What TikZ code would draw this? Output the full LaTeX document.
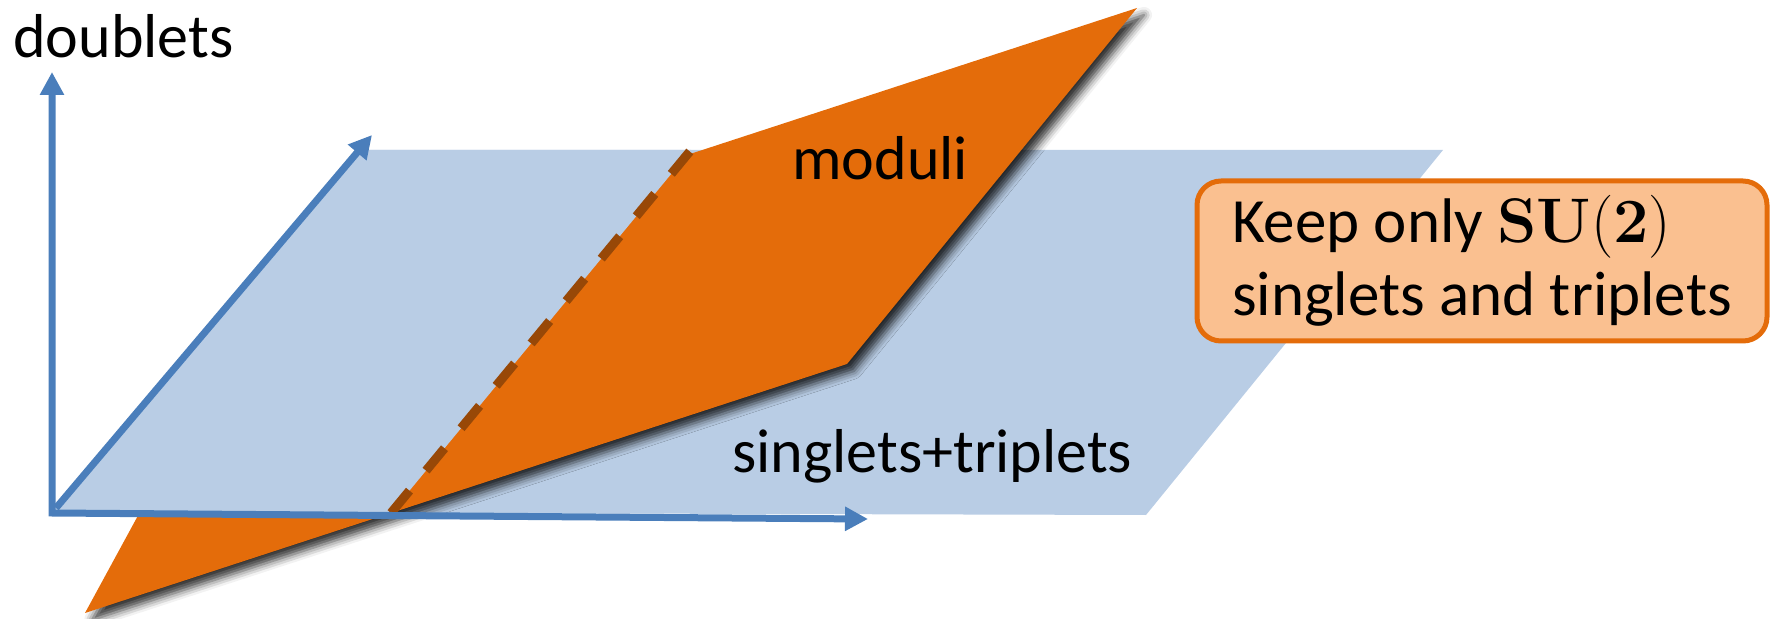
\documentclass[tikz,border=0pt]{standalone}
\usepackage{fontspec}
\newfontfamily\calibri{Carlito}
\usetikzlibrary{arrows.meta,shadows.blur}
\definecolor{planeblue}{HTML}{B9CDE5}
\definecolor{orng}{HTML}{E46C0A}
\definecolor{axisblue}{HTML}{4A7EBB}
\definecolor{dashbrown}{HTML}{984807}
\definecolor{boxfill}{HTML}{FAC090}
\begin{document}
\begin{tikzpicture}[x=0.5pt,y=-0.5pt,
  axisline/.style={draw=axisblue, line width=3.5pt},
  tip/.tip={Triangle[length=11.5pt,width=11.5pt]},
  lbl/.style={font=\calibri\fontsize{31pt}{36pt}\selectfont, inner sep=0pt},
  keepbox/.style={draw=orng, fill=boxfill, line width=2.5pt, rounded corners=12pt,
    minimum width=285pt, minimum height=80pt, align=left,
    inner sep=0pt, font=\calibri\fontsize{31.5pt}{36.5pt}\selectfont},
  orangeshadow/.style={blur shadow={shadow xshift=3.5pt, shadow yshift=-3.5pt,
    shadow blur radius=4pt, shadow opacity=80}}]
\useasboundingbox (0,0) rectangle (1770,619);
% blue plane
\coordinate (P1) at (52,512);
\coordinate (P2) at (362,150);
\coordinate (P3) at (1443,150);
\coordinate (P4) at (1146,515);
% orange plane
\coordinate (A) at (85,613);
\coordinate (B) at (847,364);
\coordinate (C) at (1137,8);
\coordinate (F) at (687,155);
\coordinate (H) at (190,420);
% intersection line
\coordinate (E) at (391,513);
\coordinate (T) at (691,150);
% axes
\coordinate (O) at (52,513);
\coordinate (O2) at (56,508);
\coordinate (Ytip) at (52,72);
\coordinate (Xtip) at (868,519);
\coordinate (Ztip) at (372,135);

\fill[planeblue] (P1) -- (P2) -- (P3) -- (P4) -- cycle;
\fill[orng, orangeshadow] (A) -- (B) -- (C) -- (F) -- (H) -- cycle;
\fill[planeblue] (P1) -- (P2) -- (T) -- (E) -- cycle;
\draw[dashbrown, line width=4.5pt, dash pattern=on 14.5pt off 13pt] (E) -- (T);

\draw[axisline, tip-tip] (Ytip) -- (O) -- (Xtip);
\draw[axisline, -tip] (O2) -- (Ztip);

\node[lbl, anchor=base west] (dbl) at (13,58) {doublets};
\node[lbl, anchor=base west] (mod) at (792,180) {moduli};
\node[lbl, anchor=base west] (st) at (732,473) {singlets+triplets};
\node[keepbox] (keep) at (1482,261) {Keep only {\rmfamily\bfseries SU}{\rmfamily(}{\rmfamily\bfseries 2}{\rmfamily)}\\singlets and triplets};
\end{tikzpicture}
\end{document}
